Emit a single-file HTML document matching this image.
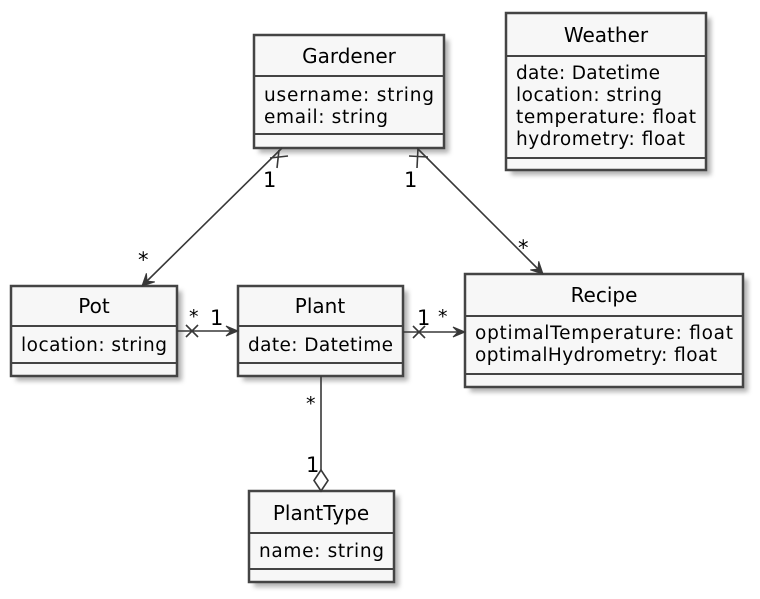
<!DOCTYPE html>
<html><head><meta charset="utf-8"><style>
html,body{margin:0;padding:0;background:#fff;}
svg{display:block;}
text{font-family:"DejaVu Sans","Liberation Sans",sans-serif;fill:#000;}
.t{font-size:20px;}
.a{font-size:18.5px;}
.box{fill:#f7f7f7;stroke:#444;stroke-width:2.5;}
.ln{stroke:#444;stroke-width:2;}
.e{stroke:#383838;stroke-width:1.6;fill:none;}
.ah{fill:#383838;stroke:#383838;stroke-width:1;}
.lb{font-size:21px;}
</style></head><body>
<svg width="760" height="599" viewBox="0 0 760 599">
<defs><filter id="sh" x="-10%" y="-10%" width="130%" height="130%"><feGaussianBlur stdDeviation="2.5"/></filter></defs>
<g fill="#999" opacity="0.75" filter="url(#sh)">
<rect x="259" y="40" width="190" height="113"/>
<rect x="511" y="18" width="200" height="157"/>
<rect x="16" y="291" width="166" height="90"/>
<rect x="243" y="291" width="165" height="90"/>
<rect x="470" y="279" width="278" height="113"/>
<rect x="254" y="496" width="145" height="91"/>
</g>
<!-- Gardener -->
<rect class="box" x="254" y="35" width="190" height="113"/>
<line class="ln" x1="254" y1="76" x2="444" y2="76"/>
<line class="ln" x1="254" y1="134" x2="444" y2="134"/>
<text class="t" x="349" y="63" text-anchor="middle">Gardener</text>
<text class="a" x="264" y="101" textLength="170">username: string</text>
<text class="a" x="264" y="123" textLength="124">email: string</text>
<!-- Weather -->
<rect class="box" x="506" y="13" width="200" height="157"/>
<line class="ln" x1="506" y1="56" x2="706" y2="56"/>
<line class="ln" x1="506" y1="158" x2="706" y2="158"/>
<text class="t" x="606" y="42" text-anchor="middle">Weather</text>
<text class="a" x="516" y="79" textLength="144">date: Datetime</text>
<text class="a" x="516" y="101" textLength="146">location: string</text>
<text class="a" x="516" y="123" textLength="180">temperature: float</text>
<text class="a" x="516" y="145" textLength="169">hydrometry: float</text>
<!-- Pot -->
<rect class="box" x="11" y="286" width="166" height="90"/>
<line class="ln" x1="11" y1="326" x2="177" y2="326"/>
<line class="ln" x1="11" y1="363" x2="177" y2="363"/>
<text class="t" x="94" y="313" text-anchor="middle">Pot</text>
<text class="a" x="21" y="351" textLength="146">location: string</text>
<!-- Plant -->
<rect class="box" x="238" y="286" width="165" height="90"/>
<line class="ln" x1="238" y1="326" x2="403" y2="326"/>
<line class="ln" x1="238" y1="363" x2="403" y2="363"/>
<text class="t" x="320" y="313" text-anchor="middle">Plant</text>
<text class="a" x="248" y="351" textLength="145">date: Datetime</text>
<!-- Recipe -->
<rect class="box" x="465" y="274" width="278" height="113"/>
<line class="ln" x1="465" y1="316" x2="743" y2="316"/>
<line class="ln" x1="465" y1="374" x2="743" y2="374"/>
<text class="t" x="604" y="302" text-anchor="middle">Recipe</text>
<text class="a" x="475" y="339" textLength="258">optimalTemperature: float</text>
<text class="a" x="475" y="361" textLength="242">optimalHydrometry: float</text>
<!-- PlantType -->
<rect class="box" x="249" y="491" width="145" height="91"/>
<line class="ln" x1="249" y1="533" x2="394" y2="533"/>
<line class="ln" x1="249" y1="569" x2="394" y2="569"/>
<text class="t" x="321" y="520" text-anchor="middle">PlantType</text>
<text class="a" x="259" y="557" textLength="125">name: string</text>

<line class="e" x1="282" y1="148" x2="147" y2="281"/>
<polygon class="ah" points="142,286 154.8,281.9 147,281.1 146.4,273.3"/>
<line class="e" x1="270" y1="158" x2="288" y2="156"/>
<line class="e" x1="279" y1="150" x2="277" y2="168"/>
<text class="lb" x="263" y="187">1</text>
<text class="lb" x="138" y="267">*</text>
<line class="e" x1="417" y1="148" x2="538" y2="269"/>
<polygon class="ah" points="543,274 530.3,269.9 538,269.1 538.7,261.3"/>
<line class="e" x1="409" y1="156" x2="428" y2="157"/>
<line class="e" x1="418" y1="148" x2="417" y2="168"/>
<text class="lb" x="404" y="187">1</text>
<text class="lb" x="518" y="255">*</text>
<line class="e" x1="177" y1="331" x2="232" y2="331"/>
<polygon class="ah" points="238,331 226,326 231,331 226,336"/>
<line class="e" x1="186" y1="325" x2="198" y2="337"/>
<line class="e" x1="186" y1="337" x2="198" y2="325"/>
<text class="lb" x="189" y="323" style="font-size:19px">*</text>
<text class="lb" x="210" y="325">1</text>
<line class="e" x1="403" y1="332" x2="459" y2="332"/>
<polygon class="ah" points="465,332 453,327 458,332 453,337"/>
<line class="e" x1="413" y1="326" x2="425" y2="338"/>
<line class="e" x1="413" y1="338" x2="425" y2="326"/>
<text class="lb" x="417" y="325">1</text>
<text class="lb" x="438" y="323" style="font-size:19px">*</text>
<line class="e" x1="321" y1="376" x2="321" y2="470"/>
<polygon points="321,470 328,480.5 321,491 314,480.5" fill="#fff" stroke="#383838" stroke-width="1.6"/>
<text class="lb" x="306" y="410" style="font-size:19px">*</text>
<text class="lb" x="306" y="472">1</text>
</svg>
</body></html>
